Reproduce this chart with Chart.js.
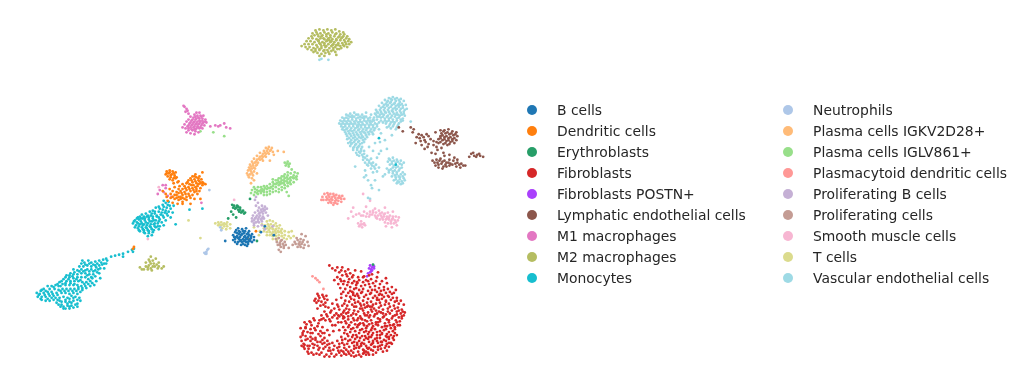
<!DOCTYPE html>
<html>
<head>
<meta charset="utf-8">
<title>UMAP cell types</title>
<script src="https://cdn.jsdelivr.net/npm/chart.js@4"></script>
<style>
  html, body { margin: 0; background: #fff; }
  #wrap { position: relative; width: 1022px; height: 389px; overflow: hidden; }
  #legend { position: absolute; left: 527px; top: 99.5px; display: grid;
    grid-template-columns: 256px auto; grid-template-rows: repeat(9, 21px); grid-auto-flow: column;
    font: 13.9px "DejaVu Sans", sans-serif; color: #262626; }
  .row { display: flex; align-items: center; white-space: nowrap; }
  .dot { width: 10px; height: 10px; border-radius: 50%; margin-right: 20px; }
</style>
</head>
<body>
<div id="wrap">
  <canvas id="umap" width="1022" height="389"></canvas>
  <div id="legend"></div>
</div>
<script>
'use strict';

// ******* DATA: x,y pairs *******
let categories = ['B cells', 'Dendritic cells', 'Erythroblasts', 'Fibroblasts', 'Fibroblasts POSTN+', 'Lymphatic endothelial cells', 'M1 macrophages', 'M2 macrophages', 'Monocytes', 'Neutrophils', 'Plasma cells IGKV2D28+', 'Plasma cells IGLV861+', 'Plasmacytoid dendritic cells', 'Proliferating B cells', 'Proliferating cells', 'Smooth muscle cells', 'T cells', 'Vascular endothelial cells'];
let colors = ['#1f77b4', '#ff7f0e', '#279e68', '#d62728', '#aa40fc', '#8c564b', '#e377c2', '#b5bd61', '#17becf', '#aec7e8', '#ffbb78', '#98df8a', '#ff9896', '#c5b0d5', '#c49c94', '#f7b6d2', '#dbdb8d', '#9edae5'];

let bCells = [236,229,240,230,244,229,233,233,238,233,242,234,247,232,231,236,235,237,239,236,243,237,247,236,250,235,233,240,237,240,241,240,245,240,249,239,236,243,240,243,244,243,248,242,239,246,243,246,246,245,234,238,238,238,242,238,246,238,241,232,245,235,237,235,252,238,231,241,235,245,250,243,243,241,247,241,239,241,259,233,263,227,272,236,223,242,234,231,237,232,243,232,246,234,235,234,240,235,249,237,232,238,236,239,244,239,248,240,238,242,242,242,246,243,241,245,245,247,233,243,252,241];
let dendriticCells = [164,171,167,170,170,171,173,172,163,174,166,173,169,174,172,175,165,176,168,177,171,178,174,177,167,179,176,181,170,180,193,174,190,176,194,177,197,176,188,178,192,179,196,180,199,179,186,180,190,182,194,183,198,183,200,185,184,183,187,184,191,185,195,186,198,188,182,186,186,187,190,188,194,189,197,191,180,189,184,190,188,191,192,192,195,194,178,191,182,192,186,194,190,195,176,193,180,195,184,197,188,198,172,195,176,197,180,198,184,200,168,198,172,199,176,200,180,202,164,197,160,191,177,186,172,187,176,189,170,191,174,192,168,194,165,201,170,203,175,204,180,204,188,204,192,199,163,194,167,189,171,183,180,184,194,191,201,183,203,184,247,240,175,182,254,232,173,178,200,172,130,250,131,248,198,199,192,176,196,178,189,180,193,181,197,181,185,182,189,185,193,187,196,184,200,182,183,188,187,189,191,190,179,193,183,194,187,196,174,195,178,197,182,199,170,197,174,198,178,199,167,172,171,173,164,173,168,175,172,177];
let erythroblasts = [230,205,232,206,234,208,236,207,233,209,236,210,238,210,240,212,241,211,243,213,239,213,229,212,231,215,248,199,234,218,226,219,255,242,372,266,235,206,238,208,242,214,231,208,237,212];
let fibroblasts = [328,267,331,270,334,272,338,274,344,273,349,275,341,277,346,278,352,277,357,279,336,279,333,282,339,281,343,283,348,281,353,283,358,282,362,284,367,283,372,285,337,286,342,286,346,287,351,285,355,287,360,288,364,287,369,289,374,288,378,290,383,289,339,290,344,291,349,289,353,291,358,292,362,291,367,293,371,292,376,294,380,293,385,295,389,294,342,294,347,295,351,294,356,296,360,295,365,297,369,296,374,298,378,297,383,299,387,298,392,300,345,298,349,299,354,298,358,300,363,299,367,301,372,300,376,302,381,301,385,303,390,302,394,304,398,306,340,300,335,302,344,303,348,304,353,302,357,304,362,303,366,305,370,304,375,306,379,305,384,307,388,306,393,308,397,310,401,312,404,315,331,306,336,307,341,308,346,308,351,307,355,309,360,308,364,310,369,309,373,311,378,310,382,312,387,311,391,313,396,314,400,316,403,318,327,310,333,311,338,312,343,313,348,312,353,313,357,314,362,313,367,315,371,314,376,316,380,315,385,317,389,316,394,318,398,320,401,321,323,314,329,315,335,316,340,317,345,316,350,318,355,317,359,319,364,318,368,320,373,319,377,321,382,320,386,322,391,321,395,323,399,324,320,318,326,319,331,320,336,321,342,321,347,322,352,321,356,323,361,322,366,324,370,323,375,325,379,324,384,326,388,325,393,327,397,328,318,323,324,323,329,324,345,326,350,325,354,327,359,326,363,328,368,327,372,329,377,328,381,330,386,329,390,331,394,330,347,330,352,331,356,330,361,332,365,331,370,333,374,332,379,334,383,333,388,335,392,334,349,335,354,334,358,336,363,335,367,337,372,336,376,338,381,337,385,339,390,338,343,336,347,339,352,338,356,340,361,339,365,341,370,340,374,342,379,341,383,343,388,342,392,341,340,340,344,342,349,343,354,342,358,344,363,343,368,345,372,344,377,346,381,345,386,347,390,346,336,344,341,346,346,347,351,346,356,348,360,347,365,349,370,348,374,350,379,349,384,351,388,350,391,347,331,346,326,348,321,347,316,349,311,347,306,349,328,351,333,349,338,350,343,351,348,350,353,352,358,351,362,353,367,352,372,354,377,353,382,355,386,354,302,347,307,352,312,351,317,353,322,352,327,354,332,353,337,354,342,355,347,355,352,356,357,355,362,357,367,356,372,358,300,344,304,343,309,344,314,343,319,345,299,340,304,339,309,340,314,341,319,339,323,341,301,336,306,335,311,336,299,331,304,331,309,332,314,333,319,334,305,327,310,328,316,329,321,330,313,323,308,324,303,325,326,333,323,336,328,338,302,350,306,355,310,356,315,357,320,356,325,358,330,357,335,358,340,359,345,358,350,359,355,359,360,360,365,358,303,352,300,349,316,296,321,297,318,300,323,301,314,301,325,298,320,304,315,305,324,305,319,308,317,303,322,307,326,302,341,269,347,271,316,311,320,322,334,328,338,333,342,330,332,334,340,325,343,320,337,325,331,328,399,328,394,336,393,343,396,338,371,276,376,279,381,283,386,285,391,289,395,292,385,280,377,274,363,278,368,277,360,273,354,272,400,303,403,307,396,300,355,290,349,293,357,298,352,295,359,311,366,309,363,316,360,321,358,327,364,323,369,318,375,313,372,307,378,302,381,297,374,292,368,286,382,316,377,325,371,331,365,334,368,340,361,346,366,351,371,347,376,341,381,336,385,332,389,328,353,309,347,315,342,319,337,318,353,345,358,350,363,354,373,350,380,345,386,340,
  347,284,356,285,365,282,375,283,340,283,383,292,391,296,340,296,352,297,361,294,370,295,379,296,388,299,396,303,343,306,350,301,359,306,367,308,376,300,385,304,394,311,402,314,330,313,337,309,345,311,354,305,363,307,371,309,380,308,389,309,398,313,325,317,333,318,342,315,352,316,361,311,370,312,378,314,387,314,396,317,322,321,328,322,338,319,347,319,357,321,366,318,374,317,383,319,392,319,401,319,344,324,353,323,362,326,371,326,379,322,388,323,396,325,348,328,357,328,366,329,375,327,384,329,392,328,344,333,350,332,359,333,368,335,376,335,386,337,394,332,346,337,355,338,364,339,371,338,379,338,388,340,341,343,351,340,359,341,367,342,376,344,385,344,393,339,338,347,347,344,356,346,363,347,372,346,381,348,388,346,343,348,353,349,360,349,368,351,377,350,385,349,324,350,329,354,336,351,340,354,345,353,350,354,355,351,365,355,370,353,375,356,380,352,301,338,306,342,311,342,316,345,321,343,326,344,303,348,308,349,313,348,318,351,323,346,328,347,304,330,309,336,313,331,317,337,302,334,321,336,307,357,312,358,318,358,323,360,328,360,333,360,338,356,343,357,348,357,353,360,358,358,363,356,368,358,309,325,312,321,317,326,317,298,322,299,313,303,324,309,336,269,340,272,345,276,351,279,356,284,362,279,370,281,379,286,387,291,393,295];
let fibroblastsPostn = [369,267,372,267,371,269,368,270,373,268,370,271,367,275,369,274,370,273,366,278,373,270,371,272];
let lymphatic = [412,131,416,136,418,133,420,140,423,136,425,141,421,144,427,146,430,138,433,144,426,133,428,135,435,131,440,129,444,129,448,128,452,130,456,131,441,132,445,132,449,133,453,134,457,135,440,135,444,136,448,137,452,138,456,139,438,138,442,139,446,140,450,141,454,142,438,142,443,143,447,144,436,146,441,147,424,148,431,152,435,153,443,152,449,154,436,159,440,158,444,160,448,162,437,162,441,163,445,164,449,165,453,160,457,162,461,163,465,165,452,164,456,166,460,167,435,165,438,167,442,168,446,166,439,160,457,159,471,153,474,155,477,154,480,155,483,156,469,156,473,152,402,130,398,126,444,155,454,157,413,128,433,140,437,149,415,142,410,126,443,130,447,131,451,132,455,133,442,134,446,135,450,136,454,137,440,137,444,138,448,139,452,140,436,141,440,141,445,142,449,143,421,134,419,137,424,139,428,143,442,161,446,162,450,163,438,164,443,166,455,163,459,164,463,165,449,159,434,162,432,160,476,156,479,153];
let m1Macrophages = [182,105,184,107,183,110,186,112,194,111,197,111,192,113,195,114,198,114,201,114,188,115,191,116,194,117,197,117,200,117,203,118,186,118,189,119,192,120,195,120,198,120,201,121,204,121,184,120,187,122,190,123,193,123,196,123,199,124,202,124,182,123,185,125,188,126,191,126,194,127,197,127,200,127,180,126,183,127,186,129,190,129,193,130,196,131,184,131,188,132,192,133,193,128,196,126,213,124,216,125,222,122,224,126,228,127,218,124,160,185,157,190,155,194,163,188,165,196,199,203,169,197,193,115,196,116,199,115,190,118,193,118,197,119,200,119,188,121,191,121,194,122,197,122,200,122,203,120,186,124,189,124,192,125,195,125,198,126,186,127,189,128,192,128,181,104,185,109,208,125,161,192,163,185];
let m2Macrophages = [314,27,318,26,322,27,326,26,330,27,334,26,338,28,342,29,311,30,315,29,319,30,323,29,327,30,331,29,335,30,339,31,343,31,346,33,310,33,313,32,317,33,321,32,325,33,329,32,333,33,337,34,341,34,345,35,348,36,307,35,311,35,315,36,319,35,323,36,327,35,331,36,335,36,339,37,343,37,347,38,350,39,305,38,309,38,313,39,317,38,321,39,325,38,329,39,333,39,337,40,341,40,345,41,348,41,303,41,307,41,311,41,315,42,319,41,323,42,327,41,331,42,335,42,339,43,343,43,346,44,300,43,304,44,308,44,312,45,316,44,320,45,324,44,328,45,332,45,336,46,340,45,310,47,314,48,318,47,322,48,326,47,330,48,334,49,316,50,320,51,324,50,328,51,318,53,312,49,306,46,335,52,323,53,148,258,146,261,143,264,150,262,146,267,151,265,148,270,156,268,143,268,152,268,141,271,145,271,155,270,149,272,159,270,137,269,139,271,156,264,161,268,153,260,316,31,320,33,325,31,329,34,334,31,338,33,342,33,317,37,322,35,326,37,330,38,335,37,340,35,344,39,318,40,323,40,328,37,332,41,337,42,342,42,320,43,325,43,330,43,334,44,338,46,314,46,318,46,323,47,327,49,332,47,148,265,145,269,150,268,154,266,147,263];
let monocytes = [100,261,103,260,96,262,92,263,88,264,85,262,81,264,78,265,84,267,88,268,92,267,96,267,99,266,76,268,80,268,84,271,88,271,78,271,74,272,70,271,92,272,95,271,101,265,104,262,108,258,112,257,116,256,120,255,125,253,129,251,131,250,120,258,74,276,78,275,82,275,70,276,67,275,86,276,90,276,94,274,63,277,66,279,70,280,74,279,78,279,82,279,85,281,89,280,60,281,63,283,67,283,71,283,75,283,79,284,83,284,87,283,56,284,59,286,55,288,62,287,66,287,70,287,74,287,78,288,82,288,52,287,48,288,51,291,44,288,40,291,37,293,33,295,36,296,40,295,44,294,48,294,55,292,59,291,63,291,67,291,71,291,75,291,79,292,34,299,38,299,42,299,46,298,50,298,54,297,58,295,62,295,66,296,70,295,74,296,38,302,42,303,46,303,50,302,54,302,60,299,64,300,72,299,76,300,53,305,56,303,58,307,62,304,66,304,70,303,57,309,60,311,64,308,68,308,72,307,62,311,66,311,70,310,74,306,77,303,135,218,139,215,143,214,147,212,150,211,153,208,156,207,160,205,163,203,132,221,136,220,140,219,144,217,148,216,152,214,156,212,160,210,164,208,167,206,130,224,134,223,138,222,142,221,146,220,150,219,154,217,158,215,162,213,166,212,133,226,137,225,141,225,145,224,149,222,153,221,157,220,161,218,165,216,135,229,139,228,143,228,147,227,151,225,155,224,159,223,163,221,137,232,141,231,145,231,149,230,153,228,157,227,161,226,142,234,146,234,150,233,145,237,156,230,170,213,173,225,168,218,187,210,200,209,378,137,130,253,395,164,
  98,264,94,265,90,266,86,265,82,266,79,262,103,265,97,270,93,269,101,270,90,273,86,273,82,272,96,275,92,278,88,279,84,277,80,273,76,273,71,274,66,277,62,279,97,280,93,283,89,285,85,286,81,286,77,282,73,281,69,278,65,281,58,283,54,286,91,287,87,288,83,290,79,290,75,289,71,286,67,285,62,285,57,288,50,289,46,291,42,293,38,292,35,297,77,294,73,293,69,293,65,293,61,293,57,293,53,295,49,296,45,296,41,297,37,301,44,301,48,300,52,300,56,300,68,298,66,301,74,302,70,300,62,302,58,304,64,306,68,305,55,307,60,309,74,309,66,309,137,217,141,217,145,216,149,214,152,212,157,209,161,207,165,205,134,219,138,219,142,219,146,218,150,217,154,216,159,213,163,211,131,222,135,224,139,224,143,223,147,222,151,221,156,218,160,216,164,214,132,228,136,227,140,226,144,226,148,225,152,224,156,222,136,231,140,230,144,229,148,228,152,227,146,232,151,231,155,227,141,233,149,236,168,209,171,206,166,202,161,201];
let neutrophils = [203,255,204,253,205,251,206,250,202,254,219,231,207,190,218,228,204,255];
let plasmaKappa = [264,147,267,146,270,147,262,150,265,150,268,150,271,151,258,152,261,153,264,153,267,153,255,155,258,156,261,156,264,156,252,158,255,159,258,159,261,160,250,161,253,162,256,162,248,164,251,165,254,165,247,167,250,168,253,168,246,170,249,171,252,171,245,173,248,174,251,175,247,177,250,178,252,180,272,154,276,150,282,151,249,183,255,173,268,160,266,148,269,149,263,152,266,152,260,155,263,155,257,158,260,158,254,161,251,163,255,164,249,166,252,167,248,169,250,173,246,175];
let plasmaLambda = [283,162,286,161,288,163,284,165,287,166,290,169,293,172,296,173,289,173,292,175,295,176,286,172,283,174,286,175,289,177,292,178,295,179,280,176,283,178,286,179,289,180,292,182,277,178,280,180,283,181,286,183,289,184,274,180,277,182,280,183,283,185,286,186,271,182,274,184,277,185,280,187,283,188,268,184,271,186,274,187,277,189,280,190,265,186,268,188,271,189,274,191,277,192,262,186,265,189,268,191,271,192,259,187,262,190,265,192,268,194,256,187,259,190,262,192,265,195,253,189,256,191,259,193,262,195,250,190,253,192,256,194,249,193,252,195,252,187,271,179,287,196,198,130,211,131,222,135,285,192,285,163,287,164,282,176,285,177,288,178,291,177,294,177,279,178,282,180,285,181,288,182,276,180,279,182,282,183,275,183,278,184,272,184,269,187,266,188,263,188,260,189,258,191,255,190,255,193,260,191];
let pdc = [321,197,323,194,326,193,329,194,332,194,335,195,338,196,341,196,322,200,325,197,328,197,331,197,334,198,337,198,340,199,343,199,325,200,328,200,331,200,334,201,337,201,340,202,327,203,330,203,333,203,336,204,332,205,320,200,311,278,314,280,316,282,318,284,322,291,327,195,333,196,339,198,326,199,330,199,335,200,329,202,334,203];
let prolifB = [254,197,253,200,256,203,254,206,257,208,260,206,263,207,265,209,259,210,262,211,256,211,253,213,258,213,261,214,264,213,251,216,255,216,258,216,261,217,250,219,253,219,256,220,259,220,262,219,250,222,254,223,257,223,260,222,252,226,256,227,260,226,266,216,263,230,271,227,261,209,263,210,257,214,260,212,254,218,257,218,260,219,252,221,256,222,252,224];
let prolifCells = [274,240,277,239,280,241,283,243,275,243,278,244,281,245,284,246,276,246,279,248,282,249,277,251,287,249,293,243,296,241,299,240,302,241,291,246,294,245,297,245,300,245,303,246,296,248,299,248,302,249,304,237,300,235,306,243,279,253,307,247,295,239,279,242,282,247,278,246,298,243,301,243,298,246];
let smoothMuscle = [352,217,355,215,358,214,360,216,350,212,363,212,366,214,369,212,372,211,375,213,378,211,381,213,384,214,387,213,362,216,365,217,368,217,371,215,374,216,377,216,380,216,383,217,386,217,389,216,392,217,395,217,398,218,376,219,379,220,382,220,385,220,388,220,391,220,394,221,397,221,384,223,387,224,390,224,393,224,360,222,357,224,360,225,363,224,358,227,361,228,364,226,385,227,391,228,396,226,352,208,347,219,384,208,362,194,369,201,232,200,156,187,145,240,365,207,374,209,392,212,383,215,381,218,386,219,388,218,390,222,392,219,395,223,379,214,375,218,372,213,369,215,362,225,359,226];
let tCells = [213,224,216,223,219,223,222,224,225,223,228,225,216,226,219,226,222,227,225,227,228,229,220,229,224,230,265,222,268,221,271,222,274,224,263,226,266,225,269,225,272,226,275,227,278,226,262,229,265,229,268,229,271,230,274,230,277,229,280,230,262,232,265,233,268,233,271,233,274,234,277,233,280,234,283,232,265,236,268,236,271,237,274,237,277,236,280,237,283,236,287,233,290,232,271,240,275,241,285,240,289,239,292,237,258,232,252,228,257,236,260,225,198,239,186,221,267,227,270,228,273,232,276,232,279,232,270,235,273,236,276,239,282,239,287,237,267,231,217,225,221,225,224,225];
let vascular = [388,96,392,95,396,96,400,97,384,98,387,99,391,98,395,99,399,100,403,99,381,101,385,102,389,101,393,102,397,103,401,102,405,103,378,104,382,105,386,104,390,105,394,106,398,105,402,106,406,107,375,108,379,108,383,108,387,108,391,109,395,108,399,109,403,110,377,111,381,112,385,111,389,112,393,112,397,113,401,113,404,114,374,112,370,113,378,115,382,115,386,115,390,116,394,115,398,116,402,117,369,116,373,116,376,118,380,119,384,119,388,119,392,120,396,119,400,120,385,122,389,123,393,123,397,124,386,126,390,127,395,128,345,113,349,112,353,111,357,113,361,113,365,111,341,116,345,116,349,115,353,115,357,116,361,116,365,115,369,119,339,119,343,119,347,119,351,118,355,119,359,120,363,119,367,119,371,120,338,122,342,122,346,122,350,122,354,122,358,123,362,123,366,122,370,123,374,122,340,125,344,125,348,125,352,125,356,126,360,126,364,126,368,126,372,126,376,125,341,128,345,128,349,129,353,129,357,129,361,130,365,129,369,130,373,129,344,131,348,132,352,132,356,133,360,133,364,132,368,133,372,133,378,128,346,135,350,135,354,136,358,136,362,136,366,136,380,132,346,138,350,139,354,139,358,140,362,139,347,142,351,142,355,143,359,143,363,141,349,145,353,146,357,146,361,146,352,149,356,149,360,150,355,152,359,152,363,153,358,155,362,156,366,155,362,159,366,159,370,158,364,162,368,162,372,162,367,165,371,165,375,164,370,168,374,168,378,167,372,172,376,171,388,158,392,157,396,159,400,160,387,161,391,161,395,162,399,163,403,162,389,164,393,165,397,166,401,167,386,168,390,169,394,170,398,170,388,172,392,173,396,174,400,174,404,174,384,174,391,176,395,177,399,177,403,178,393,180,397,181,401,181,404,180,400,184,396,183,382,176,370,185,371,188,378,190,367,198,369,199,367,180,365,175,364,170,357,125,320,56,318,57,327,57,410,120,354,166,363,177,374,180,372,150,380,150,374,142,384,139,391,134,379,141,368,146,386,148,376,157,378,153,
  390,97,394,97,398,98,386,100,390,100,394,101,398,102,402,104,383,103,387,103,391,103,395,104,399,103,380,106,384,106,388,106,392,107,396,107,400,107,404,108,376,110,380,110,384,110,388,110,392,110,396,111,400,111,375,113,379,113,383,113,387,114,391,114,395,113,399,114,403,112,372,118,376,115,380,116,384,117,388,117,392,118,396,117,400,118,378,121,382,121,386,120,390,121,394,121,398,122,402,119,388,125,392,125,396,126,347,114,351,114,355,113,359,115,363,115,343,117,347,117,351,116,355,117,359,118,363,117,367,117,341,120,345,120,349,120,353,120,357,121,361,121,365,120,369,121,373,119,340,123,344,123,348,123,352,123,356,124,360,124,364,124,368,124,372,124,376,123,342,126,346,127,350,127,354,127,358,128,362,128,366,127,370,128,374,127,343,129,347,130,351,130,355,131,359,131,363,131,367,131,371,131,345,133,349,133,353,134,357,134,361,135,365,134,348,137,352,137,356,138,360,137,364,138,349,141,353,141,357,141,361,142,350,143,354,144,358,145,352,147,356,147,360,148,358,151,363,150,356,154,361,154,364,157,368,160,366,164,370,163,373,166,389,159,393,160,397,161,401,164,391,163,395,167,399,168,392,167,388,170,392,171,396,172,402,172,394,175,398,176,402,176,395,179,399,179,402,183,398,182];
</script>
<script>
'use strict';

// ******* HELPERS *******
function toPoints(flat) {
  let points = [];
  for (let i = 0; i < flat.length; i += 2) {
    points.push({ x: flat[i], y: flat[i + 1] });
  }
  return points;
}

let seriesValues = [bCells, dendriticCells, erythroblasts, fibroblasts, fibroblastsPostn, lymphatic, m1Macrophages, m2Macrophages, monocytes, neutrophils, plasmaKappa, plasmaLambda, pdc, prolifB, prolifCells, smoothMuscle, tCells, vascular];

let datasets = [];
for (let i = 0; i < categories.length; i++) {
  datasets.push({
    label: categories[i],
    data: toPoints(seriesValues[i]),
    backgroundColor: colors[i],
    borderWidth: 0,
    pointRadius: 1.4
  });
}

new Chart(document.getElementById('umap'), { //eslint-disable-line
  type: 'scatter',
  data: { datasets: datasets },
  options: {
    responsive: false,
    animation: false,
    layout: { padding: { right: 522 } },
    plugins: { legend: { display: false }, tooltip: { enabled: false } },
    scales: {
      x: { display: false, min: 0, max: 500 },
      y: { display: false, min: 0, max: 389, reverse: true }
    }
  }
});

// ***** LEGEND, two columns like the figure *****
let legend = document.getElementById('legend');
for (let i = 0; i < categories.length; i++) {
  let row = document.createElement('div');
  row.className = 'row';
  let dot = document.createElement('span');
  dot.className = 'dot';
  dot.style.background = colors[i];
  row.appendChild(dot);
  row.appendChild(document.createTextNode(categories[i]));
  legend.appendChild(row);
}
</script>
</body>
</html>
